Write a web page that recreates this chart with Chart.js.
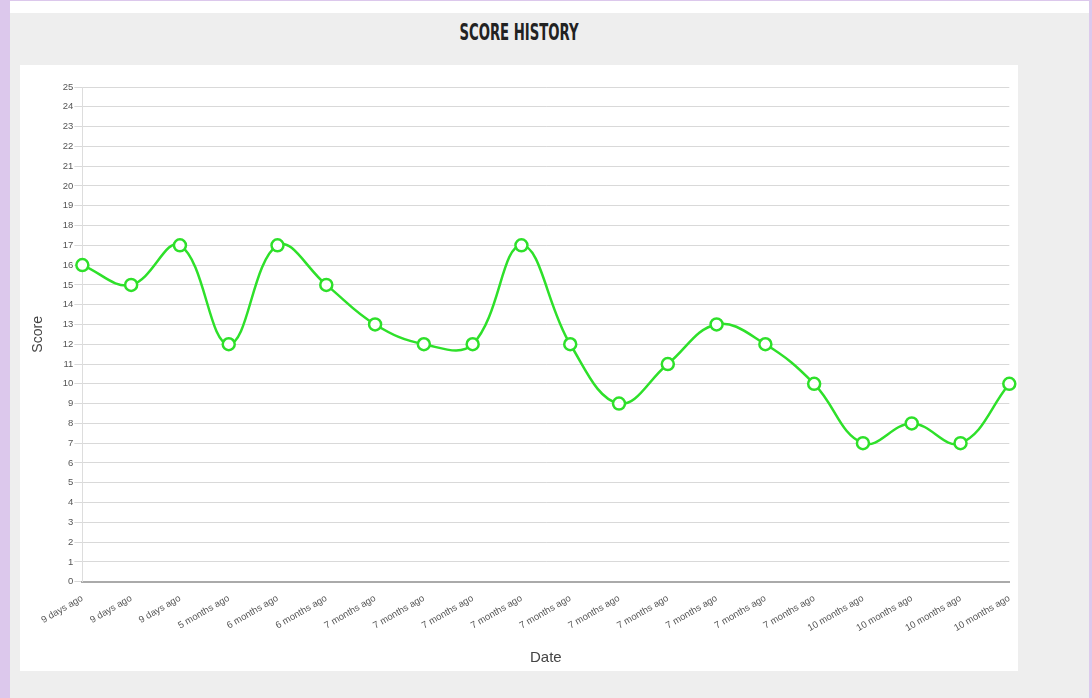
<!DOCTYPE html>
<html>
<head>
<meta charset="utf-8">
<script src="https://cdn.jsdelivr.net/npm/chart.js@4/dist/chart.umd.min.js"></script>
<style>
    html, body { margin: 0; padding: 0; }
    body { width: 1092px; height: 698px; background: #dcc8ec; position: relative; overflow: hidden; font-family: "Liberation Sans", Arial, sans-serif; }
    #topbar { position: absolute; left: 10px; top: 1px; width: 1079px; height: 12px; background: #fff; }
    #panel { position: absolute; left: 10px; top: 13px; width: 1079px; height: 685px; background: #eeeeee; }
    #title { position: absolute; left: 419px; width: 200px; top: 21px; text-align: center; font-family: "DejaVu Sans Condensed", sans-serif; font-weight: bold; font-size: 16px; line-height: 16px; color: #222; transform: scale(0.92, 1.45); transform-origin: 50% 0; }
    #box { position: absolute; left: 20px; top: 65px; width: 998px; height: 606px; background: #fff; }
</style>
</head>
<body>
<div id="topbar"></div>
<div id="panel"></div>
<div id="title">SCORE HISTORY</div>
<div id="box"><canvas id="score-chart" width="998" height="606"></canvas></div>
<script>
const dateLabels = [
    '9 days ago', '9 days ago', '9 days ago', '5 months ago', '6 months ago',
    '6 months ago', '7 months ago', '7 months ago', '7 months ago', '7 months ago',
    '7 months ago', '7 months ago', '7 months ago', '7 months ago', '7 months ago',
    '7 months ago', '10 months ago', '10 months ago', '10 months ago', '10 months ago'
];
const scores = [16, 15, 17, 12, 17, 15, 13, 12, 12, 17, 12, 9, 11, 13, 12, 10, 7, 8, 7, 10];

const green = '#2ee02a';

const canvas = document.getElementById('score-chart');
window.chart = new Chart(canvas, {
    type: 'line',
    data: {
        labels: dateLabels,
        datasets: [{
            label: 'Score',
            data: scores,
            borderColor: green,
            backgroundColor: '#ffffff',
            borderWidth: 2.5,
            tension: 0.4,
            fill: false,
            pointRadius: 6,
            pointBorderWidth: 2.5,
            pointBackgroundColor: '#ffffff',
            pointBorderColor: green
        }]
    },
    options: {
        responsive: false,
        animation: false,
        layout: {
            padding: { top: 22, right: 6, left: 6, bottom: 0 }
        },
        plugins: {
            legend: { display: false },
            tooltip: { enabled: false }
        },
        scales: {
            x: {
                grid: { display: false },
                border: { color: '#aaaaaa', width: 2 },
                ticks: {
                    autoSkip: false,
                    maxRotation: 30,
                    minRotation: 30,
                    color: '#555',
                    font: { size: 9.5 }
                },
                title: {
                    display: true,
                    text: 'Date',
                    color: '#444',
                    font: { size: 15 },
                    padding: { top: 12, bottom: 4 }
                }
            },
            y: {
                min: 0,
                max: 25,
                grid: { color: '#d9d9d9', drawTicks: true, tickLength: 8 },
                border: { color: '#dddddd' },
                ticks: {
                    stepSize: 1,
                    padding: 1,
                    color: '#555',
                    font: { size: 9.5 }
                },
                title: {
                    display: true,
                    text: 'Score',
                    color: '#444',
                    font: { size: 14 },
                    padding: { top: 4, bottom: 15 }
                }
            }
        }
    }
});
</script>
</body>
</html>
